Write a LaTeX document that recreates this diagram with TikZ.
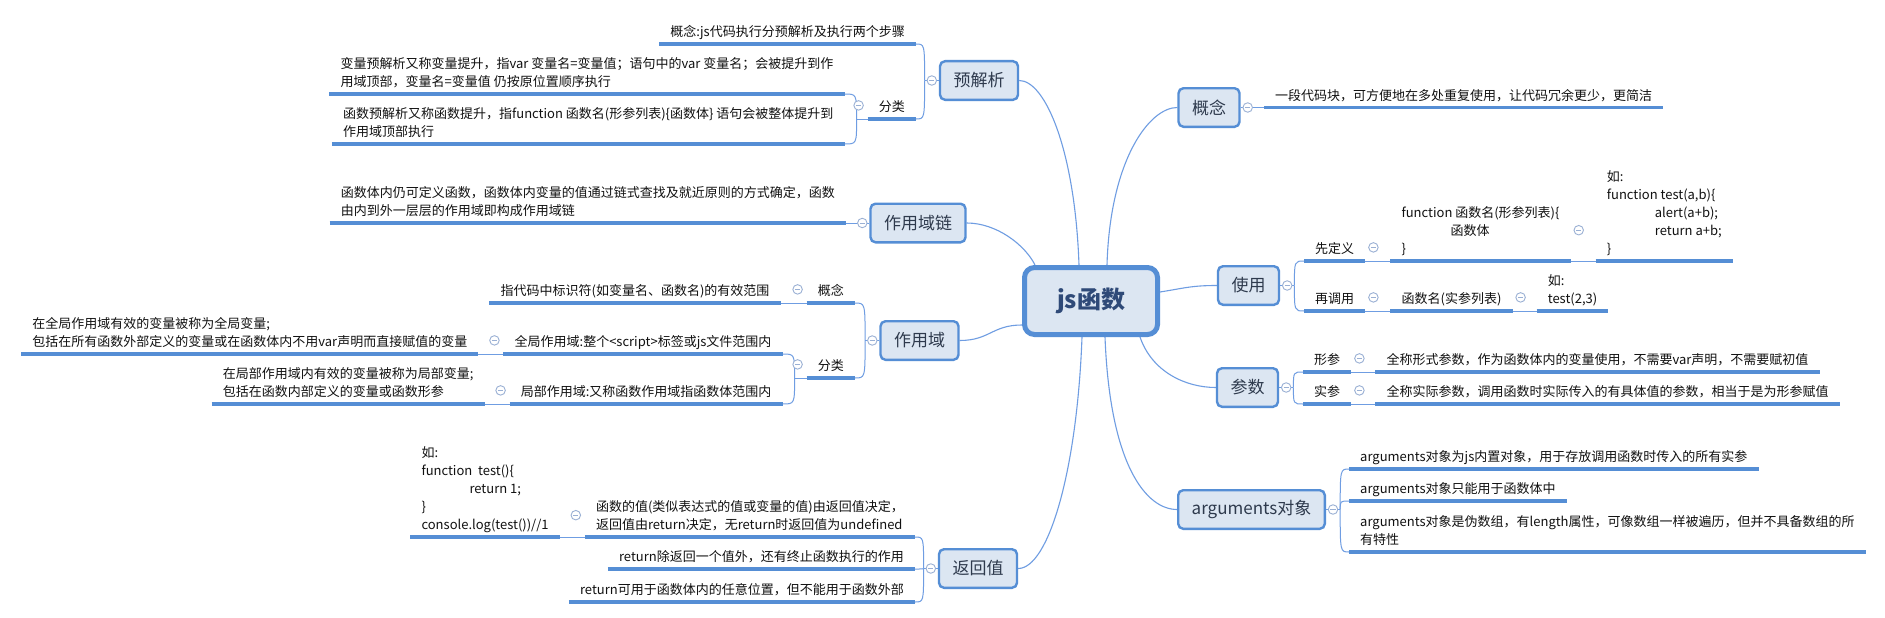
\documentclass[tikz,border=0pt]{standalone}
\usepackage{fontspec}
\setmainfont{Noto Sans CJK SC}
\usetikzlibrary{backgrounds}
\definecolor{boxf}{HTML}{DCE6F2}
\definecolor{boxc}{HTML}{558ED5}
\definecolor{ulc}{HTML}{558ED5}
\definecolor{linec}{HTML}{6F9DE2}
\definecolor{circc}{HTML}{9AB0D4}
\definecolor{topicc}{HTML}{2E3A4D}
\definecolor{centc}{HTML}{2F4A78}
\definecolor{leafc}{HTML}{111111}
\newcommand\mmbrk[2]{\draw[conn] (#1) .. controls (#1 |- #2) .. (#2);}
\begin{document}
\begin{tikzpicture}[x=1pt,y=-1pt,
  topic/.style={draw=boxc, fill=boxf, line width=2.4pt, rounded corners=5pt,
    minimum height=38.6pt, inner xsep=13.5pt, font=\fontsize{17}{20}\selectfont, text=topicc},
  central/.style={draw=boxc, fill=boxf, line width=5pt, rounded corners=10pt,
    minimum width=133pt, minimum height=67pt, font=\fontsize{24}{28}\selectfont\bfseries, text=centc},
  circ/.style={circle, draw=circc, fill=white, line width=0.9pt, minimum size=9.5pt, inner sep=0pt,
    path picture={\draw[circc, line width=0.9pt] ([xshift=-2.6pt]path picture bounding box.center) -- ([xshift=2.6pt]path picture bounding box.center);}},
  leaf/.style={font=\fontsize{13}{18}\selectfont, text=leafc, inner xsep=11pt, inner ysep=1.9pt,
    align=left, execute at end node=\strut},
  leafL/.style={leaf, anchor=south east},
  leafR/.style={leaf, anchor=south west},
  ul/.style={draw=ulc, line width=3.5pt},
  conn/.style={draw=linec, line width=1pt},
  branch/.style={draw=linec, line width=1.1pt}]
\useasboundingbox (0,0) rectangle (1885,618);

% central and main topics
\node[central] (C) at (1091,301) {js函数};
\node[topic] (pre) at (979,80.5) {预解析};
\node[topic] (link) at (918,223) {作用域链};
\node[topic] (sc) at (919.5,340.5) {作用域};
\node[topic] (rv) at (978,568.5) {返回值};
\node[topic] (gn) at (1209,107.5) {概念};
\node[topic] (use) at (1248.5,285.5) {使用};
\node[topic] (par) at (1247.5,387.5) {参数};
\node[topic] (arg) at (1251.5,509.5) {arguments对象};

% leaves, left side
\node[leafL] (p1) at (916,44) {概念:js代码执行分预解析及执行两个步骤};
\node[leafL] (p2) at (916,119) {分类};
\node[leafL] (p21) at ([shift={(-23pt,25pt)}]p2.south west) {变量预解析又称变量提升，指var 变量名=变量值；语句中的var 变量名；会被提升到作\\用域顶部，变量名=变量值 仍按原位置顺序执行};
\node[leafL] (p22) at ([shift={(-23pt,-25pt)}]p2.south west) {函数预解析又称函数提升，指function 函数名(形参列表)\{函数体\} 语句会被整体提升到\\作用域顶部执行};
\node[leafL] (l1) at (846,223) {函数体内仍可定义函数，函数体内变量的值通过链式查找及就近原则的方式确定，函数\\由内到外一层层的作用域即构成作用域链};
\node[leafL] (s1) at (855,303) {概念};
\node[leafL] (s11) at ([xshift=-26pt]s1.south west) {指代码中标识符(如变量名、函数名)的有效范围};
\node[leafL] (s2) at (855,378) {分类};
\node[leafL] (s21) at ([shift={(-24pt,24pt)}]s2.south west) {全局作用域:整个<script>标签或js文件范围内};
\node[leafL] (s22) at ([shift={(-24pt,-26pt)}]s2.south west) {局部作用域:又称函数作用域指函数体范围内};
\node[leafL] (s211) at ([xshift=-25pt]s21.south west) {在全局作用域有效的变量被称为全局变量;\\包括在所有函数外部定义的变量或在函数体内不用var声明而直接赋值的变量};
\node[leafL] (s221) at ([xshift=-25pt]s22.south west) {在局部作用域内有效的变量被称为局部变量;\\包括在函数内部定义的变量或函数形参};
\node[leafL] (r1) at (915,537) {函数的值(类似表达式的值或变量的值)由返回值决定，\\返回值由return决定，无return时返回值为undefined};
\node[leafL] (r11) at ([xshift=-25pt]r1.south west) {如:\\function\ \ test()\{\\\hspace*{48pt}return 1;\\\}\\console.log(test())//1};
\node[leafL] (r2) at (915,569) {return除返回一个值外，还有终止函数执行的作用};
\node[leafL] (r3) at (915,602) {return可用于函数体内的任意位置，但不能用于函数外部};

% leaves, right side
\node[leafR] (g1) at (1264,107.5) {一段代码块，可方便地在多处重复使用，让代码冗余更少，更简洁};
\node[leafR] (u1) at (1304,261) {先定义};
\node[leafR] (u11) at ([xshift=25pt]u1.south east) {function 函数名(形参列表)\{\\\hspace*{49pt}函数体\\\}};
\node[leafR] (u111) at ([xshift=25pt]u11.south east) {如:\\function test(a,b)\{\\\hspace*{48pt}alert(a+b);\\\hspace*{48pt}return a+b;\\\}};
\node[leafR] (u2) at (1304,311) {再调用};
\node[leafR] (u21) at ([xshift=25pt]u2.south east) {函数名(实参列表)};
\node[leafR] (u211) at ([xshift=24pt]u21.south east) {如:\\test(2,3)};
\node[leafR] (a1) at (1303,372) {形参};
\node[leafR] (a11) at ([xshift=24pt]a1.south east) {全称形式参数，作为函数体内的变量使用，不需要var声明，不需要赋初值};
\node[leafR] (a2) at (1303,404) {实参};
\node[leafR] (a21) at ([xshift=24pt]a2.south east) {全称实际参数，调用函数时实际传入的有具体值的参数，相当于是为形参赋值};
\node[leafR] (b1) at (1349,469) {arguments对象为js内置对象，用于存放调用函数时传入的所有实参};
\node[leafR] (b2) at (1349,501) {arguments对象只能用于函数体中};
\node[leafR] (b3) at (1349,552) {arguments对象是伪数组，有length属性，可像数组一样被遍历，但并不具备数组的所\\有特性};

% underlines
\foreach \n in {p1,p2,p21,p22,l1,s1,s11,s2,s21,s211,s22,s221,r1,r11,r2,r3,g1,u1,u11,u111,u2,u21,u211,a1,a11,a2,a21,b1,b2,b3}
  \draw[ul] (\n.south west) -- (\n.south east);

% collapse circles
\node[circ] (cpre) at ([xshift=-7pt]pre.west) {};
\node[circ] (clink) at ([xshift=-7pt]link.west) {};
\node[circ] (csc) at ([xshift=-7pt]sc.west) {};
\node[circ] (crv) at ([xshift=-7pt]rv.west) {};
\node[circ] (cgn) at ([xshift=7pt]gn.east) {};
\node[circ] (cuse) at ([xshift=7pt]use.east) {};
\node[circ] (cpar) at ([xshift=7pt]par.east) {};
\node[circ] (carg) at ([xshift=7pt]arg.east) {};
\node[circ] (cp2) at ([shift={(-9pt,2.5pt)}]p2.west) {};
\node[circ] (cs1) at ([shift={(-9pt,2.5pt)}]s1.west) {};
\node[circ] (cs2) at ([shift={(-9pt,2.5pt)}]s2.west) {};
\node[circ] (cs21) at ([shift={(-9pt,2.5pt)}]s21.west) {};
\node[circ] (cs22) at ([shift={(-9pt,2.5pt)}]s22.west) {};
\node[circ] (cr1) at ([shift={(-9pt,2.5pt)}]r1.west) {};
\node[circ] (cu1) at ([shift={(8pt,2.5pt)}]u1.east) {};
\node[circ] (cu11) at ([shift={(8pt,2.5pt)}]u11.east) {};
\node[circ] (cu2) at ([shift={(8pt,2.5pt)}]u2.east) {};
\node[circ] (cu21) at ([shift={(8pt,2.5pt)}]u21.east) {};
\node[circ] (ca1) at ([shift={(8pt,2.5pt)}]a1.east) {};
\node[circ] (ca2) at ([shift={(8pt,2.5pt)}]a2.east) {};

% junctions
\coordinate (Jpre) at ([xshift=-2pt]cpre.west);
\coordinate (Jsc) at ([xshift=-2pt]csc.west);
\coordinate (Jrv) at ([xshift=-2pt]crv.west);
\coordinate (Juse) at ([xshift=2pt]cuse.east);
\coordinate (Jpar) at ([xshift=2pt]cpar.east);
\coordinate (Jarg) at ([xshift=2pt]carg.east);
\coordinate (Jp2) at ([xshift=-11pt]p2.south west);
\coordinate (Js2) at ([xshift=-12pt]s2.south west);

\begin{scope}[on background layer]
  \fill[white] (0,0) rectangle (1885,618);
  % main branches
  \draw[branch] ([xshift=-12pt]C.north) .. controls +(-4,-115) and +(26,0) .. (pre.east);
  \draw[branch] ([xshift=16pt]C.north) .. controls +(3,-105) and +(-28,0) .. (gn.west);
  \draw[branch] ([xshift=13pt]C.north west) .. controls +(-10,-20) and +(30,0) .. (link.east);
  \draw[branch] ([yshift=-24pt]C.west) .. controls +(-30,0) and +(30,0) .. (sc.east);
  \draw[branch] ([yshift=9pt]C.east) .. controls +(25,-4) and +(-25,0) .. (use.west);
  \draw[branch] ([xshift=-20pt]C.south east) .. controls +(12,35) and +(-30,0) .. (par.west);
  \draw[branch] ([xshift=14pt]C.south) .. controls +(5,130) and +(-30,0) .. (arg.west);
  \draw[branch] ([xshift=-9pt]C.south) .. controls +(-5,135) and +(30,0) .. (rv.east);
  % left sub-branches
  \mmbrk{Jpre}{p1.south east} \mmbrk{Jpre}{p2.south east} \draw[conn] (Jpre) -- (pre.west);
  \mmbrk{Jp2}{p21.south east} \mmbrk{Jp2}{p22.south east} \draw[conn] (Jp2) -- (p2.south west);
  \draw[conn] (l1.south east) -- (link.west);
  \mmbrk{Jsc}{s1.south east} \mmbrk{Jsc}{s2.south east} \draw[conn] (Jsc) -- (sc.west);
  \draw[conn] (s11.south east) -- (s1.south west);
  \mmbrk{Js2}{s21.south east} \mmbrk{Js2}{s22.south east} \draw[conn] (Js2) -- (s2.south west);
  \draw[conn] (s211.south east) -- (s21.south west);
  \draw[conn] (s221.south east) -- (s22.south west);
  \mmbrk{Jrv}{r1.south east} \mmbrk{Jrv}{r2.south east} \mmbrk{Jrv}{r3.south east} \draw[conn] (Jrv) -- (rv.west);
  \draw[conn] (r11.south east) -- (r1.south west);
  % right sub-branches
  \draw[conn] (gn.east) -- (g1.south west);
  \mmbrk{Juse}{u1.south west} \mmbrk{Juse}{u2.south west} \draw[conn] (use.east) -- (Juse);
  \draw[conn] (u1.south east) -- (u11.south west);
  \draw[conn] (u11.south east) -- (u111.south west);
  \draw[conn] (u2.south east) -- (u21.south west);
  \draw[conn] (u21.south east) -- (u211.south west);
  \mmbrk{Jpar}{a1.south west} \mmbrk{Jpar}{a2.south west} \draw[conn] (par.east) -- (Jpar);
  \draw[conn] (a1.south east) -- (a11.south west);
  \draw[conn] (a2.south east) -- (a21.south west);
  \mmbrk{Jarg}{b1.south west} \mmbrk{Jarg}{b2.south west} \mmbrk{Jarg}{b3.south west} \draw[conn] (arg.east) -- (Jarg);
\end{scope}
\end{tikzpicture}
\end{document}
